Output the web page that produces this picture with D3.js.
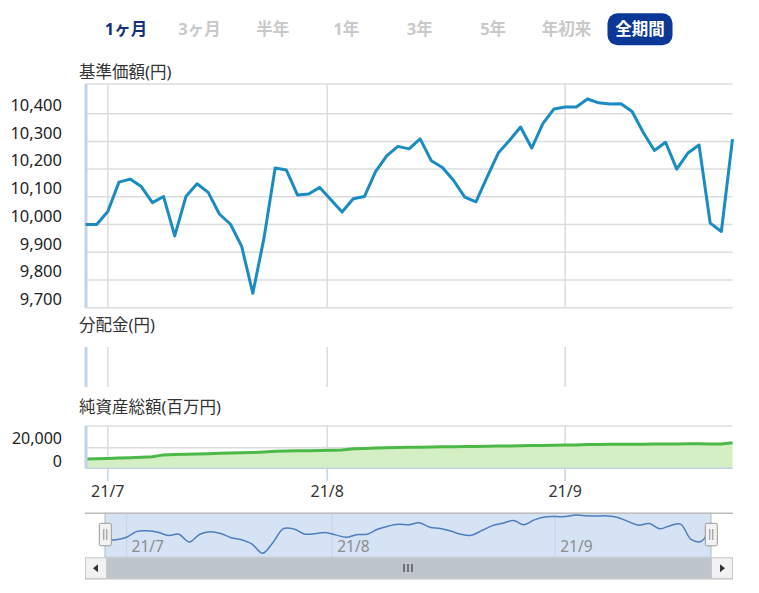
<!DOCTYPE html>
<html><head><meta charset="utf-8">
<script src="https://cdn.jsdelivr.net/npm/d3@7"></script>
<style>
body{margin:0;background:#fff}
svg{display:block}
text{font-family:"Noto Sans","Noto Sans CJK JP",sans-serif}
</style>
</head><body>
<svg id="c" width="759" height="593"></svg>
<script>
// ---------------- data ----------------
const tabs = ["1ヶ月","3ヶ月","半年","1年","3年","5年","年初来","全期間"];
const hoverTab = "1ヶ月";
const activeTab = "全期間";

const dates = [
 "2021-06-29","2021-06-30",
 "2021-07-01","2021-07-02","2021-07-05","2021-07-06","2021-07-07","2021-07-08","2021-07-09",
 "2021-07-12","2021-07-13","2021-07-14","2021-07-15","2021-07-16","2021-07-19","2021-07-20",
 "2021-07-21","2021-07-26","2021-07-27","2021-07-28","2021-07-29","2021-07-30",
 "2021-08-02","2021-08-03","2021-08-04","2021-08-05","2021-08-06","2021-08-10","2021-08-11",
 "2021-08-12","2021-08-13","2021-08-16","2021-08-17","2021-08-18","2021-08-19","2021-08-20",
 "2021-08-23","2021-08-24","2021-08-25","2021-08-26","2021-08-27","2021-08-30","2021-08-31",
 "2021-09-01","2021-09-02","2021-09-03","2021-09-06","2021-09-07","2021-09-08","2021-09-09",
 "2021-09-10","2021-09-13","2021-09-14","2021-09-15","2021-09-16","2021-09-17","2021-09-21",
 "2021-09-22","2021-09-24"
];
const navValues = [
 10000,10000,10047,10153,10164,10137,10079,10101,9959,10101,
 10147,10116,10038,10001,9921,9752,9951,10204,10197,10107,
 10110,10134,10089,10045,10093,10101,10191,10248,10282,10273,
 10309,10230,10206,10159,10099,10082,10171,10258,10303,10352,
 10276,10364,10417,10424,10424,10453,10439,10435,10436,10408,
 10332,10267,10297,10200,10258,10287,10005,9975,10308
];
const assetValues = [
 9000,9200,9500,9900,10300,10700,11100,13000,13300,13600,
 13900,14200,14500,14800,15000,15300,15800,16500,16700,16900,
 17100,17300,17500,17700,19000,19300,19600,19900,20100,20300,
 20500,20700,20900,21000,21100,21200,21300,21500,21700,21900,
 22100,22200,22300,22500,22700,23000,23100,23200,23300,23350,
 23400,23450,23500,23600,23700,23800,23500,23600,24800
];
const priceTicks = [9700,9800,9900,10000,10100,10200,10300,10400];
const assetTicks = [0,20000];
const monthTicks = ["2021-07-01","2021-08-01","2021-09-01"];
const panelTitles = ["基準価額(円)","分配金(円)","純資産総額(百万円)"];

// ---------------- helpers ----------------
const parse = d3.timeParse("%Y-%m-%d");
const dts = dates.map(parse);
const fmtMonth = d3.timeFormat("%y/%-m");
function dateToIndex(d){
  for(let i=0;i<dts.length-1;i++){
    if(d>=dts[i] && d<=dts[i+1]) return i + (d-dts[i])/(dts[i+1]-dts[i]);
  }
  return d<dts[0]?0:dts.length-1;
}
const months = monthTicks.map(parse);

const svg = d3.select("#c");
svg.append("rect").attr("width",759).attr("height",593).attr("fill","#fff");

const GRID="#dcdcdc", BAR="#c3d3e6";

// ---------------- tabs ----------------
const tx = d3.scalePoint().domain(tabs).range([126,640]);
const tg = svg.append("g");
tg.append("rect").attr("x",tx(activeTab)-32.5).attr("y",13.3).attr("width",65).attr("height",32)
  .attr("rx",10).attr("fill","#0b3797");
tg.selectAll("text").data(tabs).join("text")
  .attr("x",d=>tx(d)).attr("y",35).attr("text-anchor","middle")
  .attr("font-size",16.5).attr("font-weight","bold")
  .attr("fill",d=>d===activeTab?"#fff":(d===hoverTab?"#15307c":"#c9c9c9"))
  .text(d=>d);

// ---------------- scales ----------------
const X0=85.5, X1=732.5;
const x = d3.scaleLinear().domain([0,dates.length-1]).range([X0,X1]);
const monthX = months.map(m=>x(dateToIndex(m)));

// panel titles
const titleY=[78,331,413];
svg.selectAll("text.pt").data(panelTitles).join("text").attr("class","pt")
  .attr("x",79).attr("y",(d,i)=>titleY[i]).attr("font-size",16.5).attr("fill","#333").text(d=>d);

// ---------------- price panel ----------------
const yP = d3.scaleLinear().domain([9700,10507]).range([307.7,84]);
const gP = svg.append("g");
gP.append("line").attr("x1",X0).attr("x2",X1).attr("y1",yP.range()[1]).attr("y2",yP.range()[1])
  .attr("stroke",GRID).attr("stroke-width",1.5);
gP.selectAll("line.h").data(priceTicks).join("line").attr("class","h")
  .attr("x1",X0).attr("x2",X1).attr("y1",d=>yP(d)).attr("y2",d=>yP(d))
  .attr("stroke",GRID).attr("stroke-width",1.5);
gP.selectAll("line.v").data(monthX).join("line").attr("class","v")
  .attr("x1",d=>d).attr("x2",d=>d).attr("y1",yP.range()[1]).attr("y2",yP.range()[0])
  .attr("stroke",GRID).attr("stroke-width",1.5);
gP.append("rect").attr("x",84.5).attr("y",yP.range()[1]).attr("width",3)
  .attr("height",yP.range()[0]-yP.range()[1]).attr("fill",BAR);
gP.selectAll("text").data(priceTicks).join("text")
  .attr("x",62).attr("y",d=>yP(d)-2.7).attr("text-anchor","end")
  .attr("font-size",16.5).attr("fill","#222").text(d=>d3.format(",")(d));
gP.append("path").datum(navValues)
  .attr("d",d3.line().x((d,i)=>x(i)).y(d=>yP(d)))
  .attr("fill","none").attr("stroke","#1b8bc4").attr("stroke-width",3).attr("stroke-linejoin","round");

// ---------------- distribution panel ----------------
const gD = svg.append("g");
gD.selectAll("line").data(monthX).join("line")
  .attr("x1",d=>d).attr("x2",d=>d).attr("y1",347).attr("y2",387)
  .attr("stroke",GRID).attr("stroke-width",1.5);
gD.append("rect").attr("x",84.5).attr("y",347).attr("width",3).attr("height",40).attr("fill",BAR);

// ---------------- net assets panel ----------------
const yA = d3.scaleLinear().domain([0,41000]).range([468.3,426]);
const gA = svg.append("g");
gA.append("line").attr("x1",X0).attr("x2",X1).attr("y1",yA.range()[1]).attr("y2",yA.range()[1])
  .attr("stroke",GRID).attr("stroke-width",1.5);
gA.selectAll("line.h").data(assetTicks.filter(d=>d>0)).join("line").attr("class","h")
  .attr("x1",X0).attr("x2",X1).attr("y1",d=>yA(d)).attr("y2",d=>yA(d))
  .attr("stroke",GRID).attr("stroke-width",1.5);
gA.selectAll("line.v").data(monthX).join("line").attr("class","v")
  .attr("x1",d=>d).attr("x2",d=>d).attr("y1",yA.range()[1]).attr("y2",yA.range()[0])
  .attr("stroke",GRID).attr("stroke-width",1.5);
gA.append("path").datum(assetValues)
  .attr("d",d3.area().x((d,i)=>x(i)).y0(yA(0)).y1(d=>yA(d)))
  .attr("fill","#d4efc4");
gA.append("path").datum(assetValues)
  .attr("d",d3.line().x((d,i)=>x(i)).y(d=>yA(d)))
  .attr("fill","none").attr("stroke","#4cb847").attr("stroke-width",3);
gA.append("line").attr("x1",X0).attr("x2",X1).attr("y1",yA(0)).attr("y2",yA(0))
  .attr("stroke",BAR).attr("stroke-width",1.5);
gA.append("rect").attr("x",84.5).attr("y",yA.range()[1]).attr("width",3).attr("height",yA(0)-yA.range()[1]).attr("fill",BAR);
gA.selectAll("text").data(assetTicks).join("text")
  .attr("x",62).attr("y",d=>d===0?yA(d)-1.8:yA(d)-3.7).attr("text-anchor","end")
  .attr("font-size",16).attr("fill","#222").text(d=>d3.format(",")(d));
// x axis ticks + labels
const gX = svg.append("g");
gX.selectAll("line").data(monthX).join("line")
  .attr("x1",d=>d).attr("x2",d=>d).attr("y1",yA(0)).attr("y2",481)
  .attr("stroke",BAR).attr("stroke-width",1.5);
gX.selectAll("text").data(months).join("text")
  .attr("x",(d,i)=>monthX[i]).attr("y",497).attr("text-anchor","middle")
  .attr("font-size",16).attr("fill","#333").text(d=>fmtMonth(d));

// ---------------- navigator ----------------
const NT=513.3, NB=557.3, SB=579;
const xN = d3.scaleLinear().domain([0,dates.length-1]).range([105.7,712]);
const yN = d3.scaleLinear().domain(d3.extent(navValues)).range([553.3,515]);
const gN = svg.append("g");
gN.append("rect").attr("x",105).attr("y",NT).attr("width",606).attr("height",NB-NT)
  .attr("fill","#d5e3f5").attr("stroke","#b4b9c0").attr("stroke-width",1);
gN.append("line").attr("x1",85).attr("x2",733).attr("y1",NT).attr("y2",NT)
  .attr("stroke","#bdbdbd").attr("stroke-width",1.5);
const nMonthX = months.map(m=>xN(dateToIndex(m)));
gN.selectAll("line.v").data(nMonthX).join("line").attr("class","v")
  .attr("x1",d=>d).attr("x2",d=>d).attr("y1",NT).attr("y2",NB)
  .attr("stroke","#c4d4e8").attr("stroke-width",1);
gN.selectAll("text").data(months).join("text")
  .attr("x",(d,i)=>nMonthX[i]+5).attr("y",551.5)
  .attr("font-size",15.5).attr("fill","#8c8c8c").text(d=>fmtMonth(d));
gN.append("path").datum(navValues)
  .attr("d",d3.line().x((d,i)=>xN(i)).y(d=>yN(d)).curve(d3.curveCatmullRom))
  .attr("fill","none").attr("stroke","#4d7ebd").attr("stroke-width",1.5);

// scrollbar
const gS = svg.append("g");
gS.append("rect").attr("x",85).attr("y",NB).attr("width",648).attr("height",SB-NB).attr("fill","#eeeeee");
gS.append("rect").attr("x",105).attr("y",NB).attr("width",606).attr("height",SB-NB).attr("fill","#bfc5cd");
[[85,"L"],[711,"R"]].forEach(([bx,dir])=>{
  gS.append("rect").attr("x",bx+0.5).attr("y",NB+0.5).attr("width",21).attr("height",SB-NB-1)
    .attr("fill","#f2f2f2").attr("stroke","#c8c8c8");
  const cx=bx+11, cy=(NB+SB)/2;
  const pts = dir==="L" ? [[cx+2,cy-4],[cx+2,cy+4],[cx-3,cy]] : [[cx-2,cy-4],[cx-2,cy+4],[cx+3,cy]];
  gS.append("path").attr("d","M"+pts.join("L")+"Z").attr("fill","#333");
});
gS.append("line").attr("x1",85).attr("x2",733).attr("y1",SB).attr("y2",SB).attr("stroke","#c8c8c8");
const gcx=(105+711)/2;
[-4,0,4].forEach(o=>gS.append("line").attr("x1",gcx+o).attr("x2",gcx+o).attr("y1",564).attr("y2",572)
  .attr("stroke","#444").attr("stroke-width",1.3));

// handles
[105,711].forEach(hx=>{
  const g=svg.append("g");
  g.append("rect").attr("x",hx-5.7).attr("y",523.3).attr("width",12).attr("height",22.5)
    .attr("fill","#f2f2f2").attr("stroke","#9a9a9a").attr("rx",1.5);
  [-1.5,1.5].forEach(o=>g.append("line").attr("x1",hx+0.3+o).attr("x2",hx+0.3+o).attr("y1",529).attr("y2",540)
    .attr("stroke","#8a8a8a"));
});
</script>
</body></html>
